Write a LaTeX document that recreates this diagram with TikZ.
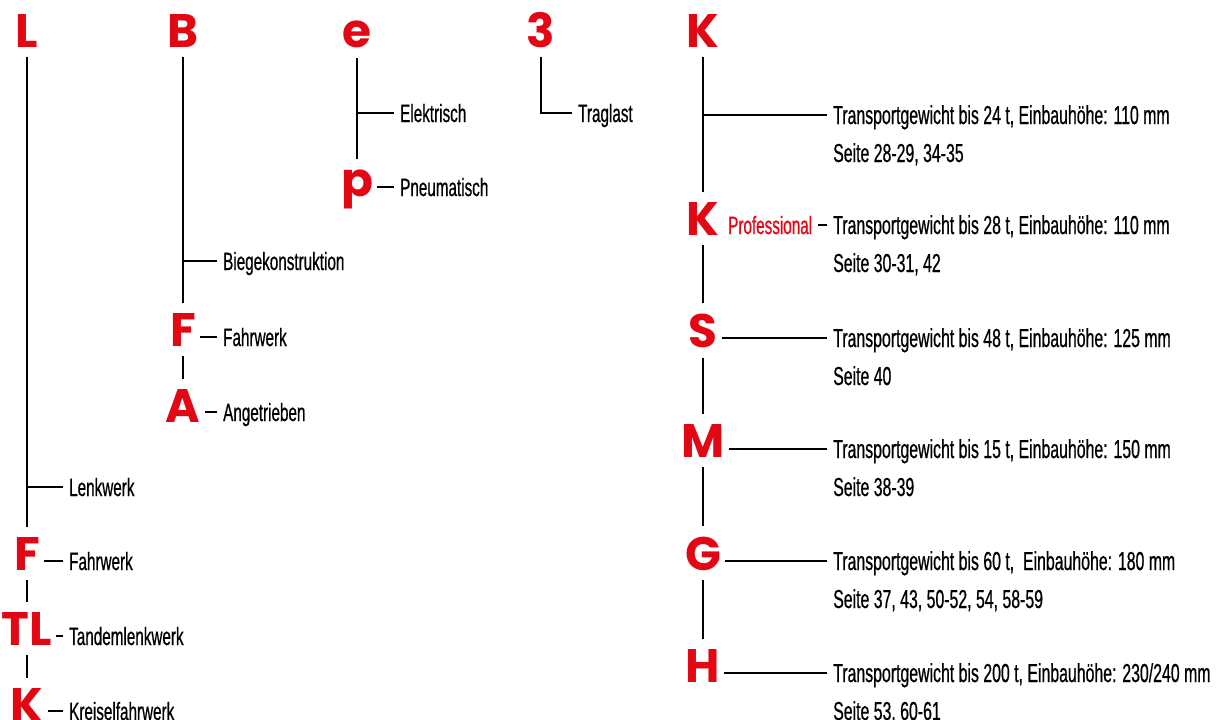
\documentclass[tikz,border=0pt]{standalone}
\usepackage{fontspec}
\newfontfamily\condfont{Liberation Sans}[FakeStretch=0.61, FakeBold=0.6]
\newfontfamily\bigfont{Poppins}
\definecolor{logored}{HTML}{E30613}

\tikzset{
  letter/.style={font=\bigfont\bfseries\fontsize{47}{47}\selectfont, text=logored, anchor=base, inner xsep=4pt, inner ysep=10pt},
  lbl/.style={font=\condfont\fontsize{25}{25}\selectfont, anchor=base west, inner xsep=6pt, inner ysep=0pt, text height=17.9pt, text depth=0pt},
  desc/.style={lbl, font=\condfont\fontsize{26}{26}\selectfont, text height=18.6pt},
  stroke/.style={line width=2pt}
}

\begin{document}
\begin{tikzpicture}[x=1pt, y=-1pt]
\useasboundingbox (0,0) rectangle (1224,720);

\node[letter] (L) at (27,47) {L};
\node[letter] (Lf) at (27,570) {F};
\node[letter] (Ltl) at (27,645) {TL};
\node[letter] (Lk) at (27,721) {K};
\node[lbl] (lenk) at (63,496) {Lenkwerk};
\node[lbl] (lfahr) at (63,570) {Fahrwerk};
\node[lbl] (tandem) at (63,645) {Tandemlenkwerk};
\node[lbl] (kreisel) at (63,720) {Kreiselfahrwerk};
\draw[stroke] (L.south) -- (Lf.north);
\draw[stroke] (Lf.south) -- (Ltl.north);
\draw[stroke] (Ltl.south) -- (Lk.north);
\draw[stroke] (lenk.west -| L.south) -- (lenk.west);
\draw[stroke] (Lf.east |- lfahr.west) -- (lfahr.west);
\draw[stroke] (Ltl.east |- tandem.west) -- (tandem.west);
\draw[stroke] (Lk.east |- kreisel.west) -- (kreisel.west);

\node[letter] (B) at (183,47) {B};
\node[letter] (Bf) at (183,346) {F};
\node[letter] (Ba) at (183,422) {A};
\node[lbl] (biege) at (217,270) {Biegekonstruktion};
\node[lbl] (bfahr) at (217,346) {Fahrwerk};
\node[lbl] (antrieb) at (217,421) {Angetrieben};
\draw[stroke] (B.south) -- (Bf.north);
\draw[stroke] (Bf.south) -- (Ba.north);
\draw[stroke] (biege.west -| B.south) -- (biege.west);
\draw[stroke] (Bf.east |- bfahr.west) -- (bfahr.west);
\draw[stroke] (Ba.east |- antrieb.west) -- (antrieb.west);

\node[letter] (E) at (357,47) {e};
\node[letter] (P) at (357,196) {p};
\node[lbl] (elek) at (394,122) {Elektrisch};
\node[lbl] (pneu) at (394,196) {Pneumatisch};
\draw[stroke] (E.south) -- (P.north);
\draw[stroke] (elek.west -| E.south) -- (elek.west);
\draw[stroke] (P.east |- pneu.west) -- (pneu.west);

\node[letter] (three) at (541,47) {3};
\node[lbl] (trag) at (572,122) {Traglast};
\draw[stroke] (three.south) |- (trag.west);

\node[letter] (K) at (703,47) {K};
\node[letter] (Kp) at (703,235) {K};
\node[lbl, text=logored] (pro) at (722,234) {Professional};
\node[letter] (S) at (703,347) {S};
\node[letter] (M) at (703,457) {M};
\node[letter] (G) at (703,570) {G};
\node[letter] (H) at (703,682) {H};
\node[desc] (t1) at (827,124) {Transportgewicht bis 24 t, Einbauhöhe: 110 mm};
\node[desc] (s1) at (827,162) {Seite 28-29, 34-35};
\node[desc] (t2) at (827,234) {Transportgewicht bis 28 t, Einbauhöhe: 110 mm};
\node[desc] (s2) at (827,272) {Seite 30-31, 42};
\node[desc] (t3) at (827,347) {Transportgewicht bis 48 t, Einbauhöhe: 125 mm};
\node[desc] (s3) at (827,385) {Seite 40};
\node[desc] (t4) at (827,458) {Transportgewicht bis 15 t, Einbauhöhe: 150 mm};
\node[desc] (s4) at (827,496) {Seite 38-39};
\node[desc] (t5) at (827,570) {Transportgewicht bis 60 t, \ Einbauhöhe: 180 mm};
\node[desc] (s5) at (827,608) {Seite 37, 43, 50-52, 54, 58-59};
\node[desc] (t6) at (827,682) {Transportgewicht bis 200 t, Einbauhöhe: 230/240 mm};
\node[desc] (s6) at (827,720) {Seite 53, 60-61};
\draw[stroke] (K.south) -- (Kp.north);
\draw[stroke] (Kp.south) -- (S.north);
\draw[stroke] (S.south) -- (M.north);
\draw[stroke] (M.south) -- (G.north);
\draw[stroke] (G.south) -- (H.north);
\draw[stroke] (t1.west -| K.south) -- (t1.west);
\draw[stroke] (pro.east |- t2.west) -- (t2.west);
\draw[stroke] (S.east |- t3.west) -- (t3.west);
\draw[stroke] (M.east |- t4.west) -- (t4.west);
\draw[stroke] (G.east |- t5.west) -- (t5.west);
\draw[stroke] (H.east |- t6.west) -- (t6.west);
\end{tikzpicture}
\end{document}
